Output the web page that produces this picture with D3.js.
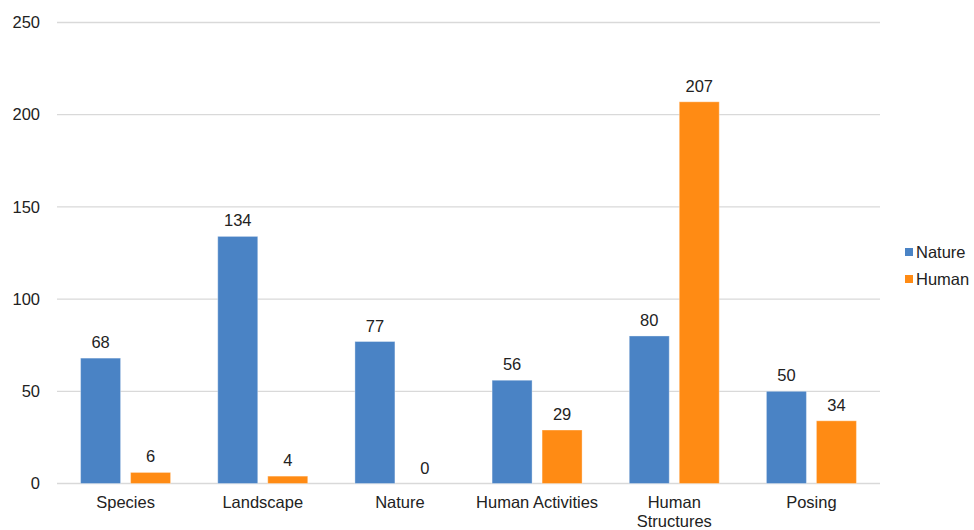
<!DOCTYPE html>
<html>
<head>
<meta charset="utf-8">
<script src="https://cdn.jsdelivr.net/npm/d3@7"></script>
<style>
  html, body { margin: 0; padding: 0; background: #fff; }
  svg text { font-family: "Liberation Sans", Arial, Helvetica, sans-serif; fill: #222; }
</style>
</head>
<body>
<svg id="chart" width="974" height="530"></svg>
<script>
const categories = ["Species", "Landscape", "Nature", "Human Activities", "Human\nStructures", "Posing"];
const seriesNames = ["Nature", "Human"];
const natureValues = [68, 134, 77, 56, 80, 50];
const humanValues = [6, 4, 0, 29, 207, 34];
const yTicks = [0, 50, 100, 150, 200, 250];
const colors = ["#4a83c5", "#ff8b14"];

const svg = d3.select("#chart");
const plot = { left: 57, right: 880, top: 22.5, bottom: 483.5 };
const fontSize = 16.5;

const x0 = d3.scaleBand().domain(categories).range([plot.left, plot.right]).paddingInner(0).paddingOuter(0);
const x1 = d3.scaleBand().domain(seriesNames).range([0, 90]).paddingInner(0.2);
const y = d3.scaleLinear().domain([0, 250]).range([plot.bottom, plot.top]);

// gridlines
svg.append("g").selectAll("line").data(yTicks).join("line")
  .attr("x1", plot.left).attr("x2", plot.right)
  .attr("y1", d => y(d)).attr("y2", d => y(d))
  .attr("stroke", "#d9d9d9").attr("stroke-width", 1.3);

// y axis labels
const yAxis = d3.axisLeft(y).tickValues(yTicks).tickSize(0).tickPadding(0);
const yg = svg.append("g").attr("transform", `translate(40,0)`).call(yAxis);
yg.select(".domain").remove();
yg.selectAll("text").attr("font-size", fontSize).attr("fill", "#222")
  .attr("font-family", '"Liberation Sans", Arial, sans-serif');

// rows of data per category
const rows = categories.map((c, i) => ({ cat: c, vals: [natureValues[i], humanValues[i]] }));

const groups = svg.append("g").selectAll("g").data(rows).join("g")
  .attr("transform", d => `translate(${x0(d.cat) + (x0.bandwidth() - 90) / 2},0)`);

groups.selectAll("rect").data(d => d.vals.map((v, k) => ({ key: seriesNames[k], v, k }))).join("rect")
  .attr("x", d => x1(d.key))
  .attr("width", x1.bandwidth())
  .attr("y", d => y(d.v))
  .attr("height", d => y(0) - y(d.v))
  .attr("fill", d => colors[d.k])
  .attr("stroke", "#ffffff").attr("stroke-opacity", 0.35).attr("stroke-width", 1);

groups.selectAll("text.val").data(d => d.vals.map((v, k) => ({ key: seriesNames[k], v, k }))).join("text")
  .attr("class", "val")
  .attr("x", d => x1(d.key) + x1.bandwidth() / 2)
  .attr("y", d => y(d.v) - 10)
  .attr("text-anchor", "middle")
  .attr("font-size", fontSize)
  .text(d => d.v);

// x axis category labels
const xg = svg.append("g");
categories.forEach(c => {
  const lines = c.split("\n");
  const t = xg.append("text")
    .attr("x", x0(c) + x0.bandwidth() / 2)
    .attr("y", 508)
    .attr("text-anchor", "middle")
    .attr("font-size", fontSize);
  lines.forEach((ln, i) => {
    t.append("tspan").attr("x", x0(c) + x0.bandwidth() / 2).attr("dy", i === 0 ? 0 : 19).text(ln);
  });
});

// legend
const legend = svg.append("g").attr("transform", "translate(905,252)");
seriesNames.forEach((s, i) => {
  const g = legend.append("g").attr("transform", `translate(0,${i * 27})`);
  g.append("rect").attr("x", 0).attr("y", -4).attr("width", 8).attr("height", 8).attr("fill", colors[i]);
  g.append("text").attr("x", 11).attr("y", 6).attr("font-size", fontSize).text(s);
});
</script>
</body>
</html>
